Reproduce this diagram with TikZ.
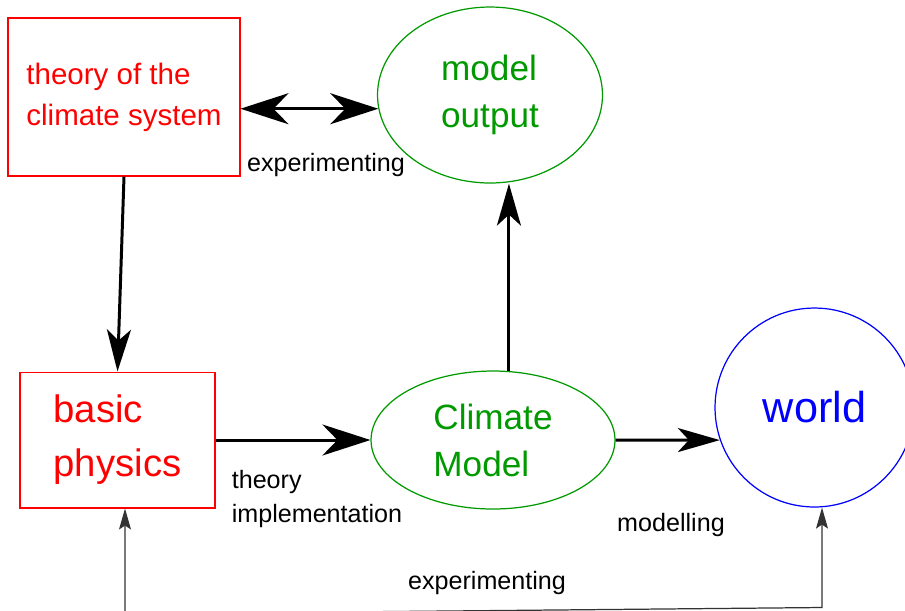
\documentclass[tikz,border=0pt]{standalone}
\usepackage{fontspec}
\setmainfont{Liberation Sans}
\usetikzlibrary{arrows.meta,shapes.geometric}
\definecolor{boxred}{RGB}{255,0,0}
\definecolor{ovalgreen}{RGB}{0,153,0}
\definecolor{worldblue}{RGB}{0,0,255}

\begin{document}
\begin{tikzpicture}[x=0.02cm, y=-0.02cm,
    box/.style={draw=boxred, line width=0.6pt, text=boxred, align=left, inner sep=0pt},
    oval/.style={ellipse, draw=ovalgreen, line width=0.7pt, text=ovalgreen, align=left, inner sep=0pt,
        font=\fontsize{20}{26.7}\selectfont},
    lbl/.style={font=\fontsize{14.3}{19.4}\selectfont},
    flow/.style={line width=1.7pt},
    bigtip/.tip={Stealth[length=0.96cm, width=0.62cm, inset=0.3cm]},
    midtip/.tip={Stealth[length=0.84cm, width=0.48cm, inset=0.22cm]},
    smalltip/.tip={Stealth[length=0.42cm, width=0.24cm, inset=0.08cm]}]
    \useasboundingbox (0,0) rectangle (905,610);
    % Boxes
    \node[box, minimum width=4.64cm, minimum height=3.16cm, font=\fontsize{16.8}{23.3}\selectfont]
        (theory) at (124,97) {theory of the\\climate system};
    \node[box, minimum width=3.9cm, minimum height=2.72cm, font=\fontsize{21.8}{30.7}\selectfont]
        (physics) at (117.5,440) {basic\\physics};
    \node[oval, minimum width=4.5cm, minimum height=3.52cm] (output) at (490,95) {model\\output};
    \node[oval, minimum width=4.88cm, minimum height=2.76cm] (climate) at (493,440) {Climate\\Model};
    \node[circle, draw=worldblue, line width=0.7pt, text=worldblue, minimum size=3.98cm, inner sep=0pt,
        font=\fontsize{24.6}{30}\selectfont] (world) at (814.5,407.5) {world};

    % Arrows
    \draw[flow, bigtip-bigtip] (theory.east |- output.187) -- (output.187);
    \draw[flow, -midtip] (theory.south) -- (physics.north);
    \draw[flow, -bigtip] (physics.east) -- (climate.west);
    \draw[flow, -midtip] (climate.77) -- (output.south -| climate.77);
    \draw[flow, -midtip] (climate.east) -- (world.199);

    % experimenting loop along the bottom
    \coordinate (loopl) at (125,614);
    \coordinate (loopr) at (822,607.5);
    \draw[line width=0.7pt, draw=black!80, smalltip-smalltip]
        (physics.south -| loopl) -- (loopl) -- (loopr) -- (loopr |- world.south);

    % Labels
    \node[lbl] (exptop) at (326,165) {experimenting};
    \node[lbl, align=left] (impl) at (317,499) {theory\\implementation};
    \node[lbl] (modlbl) at (671,525) {modelling};
    \node[lbl] (expbot) at (487,583) {experimenting};
\end{tikzpicture}
\end{document}
